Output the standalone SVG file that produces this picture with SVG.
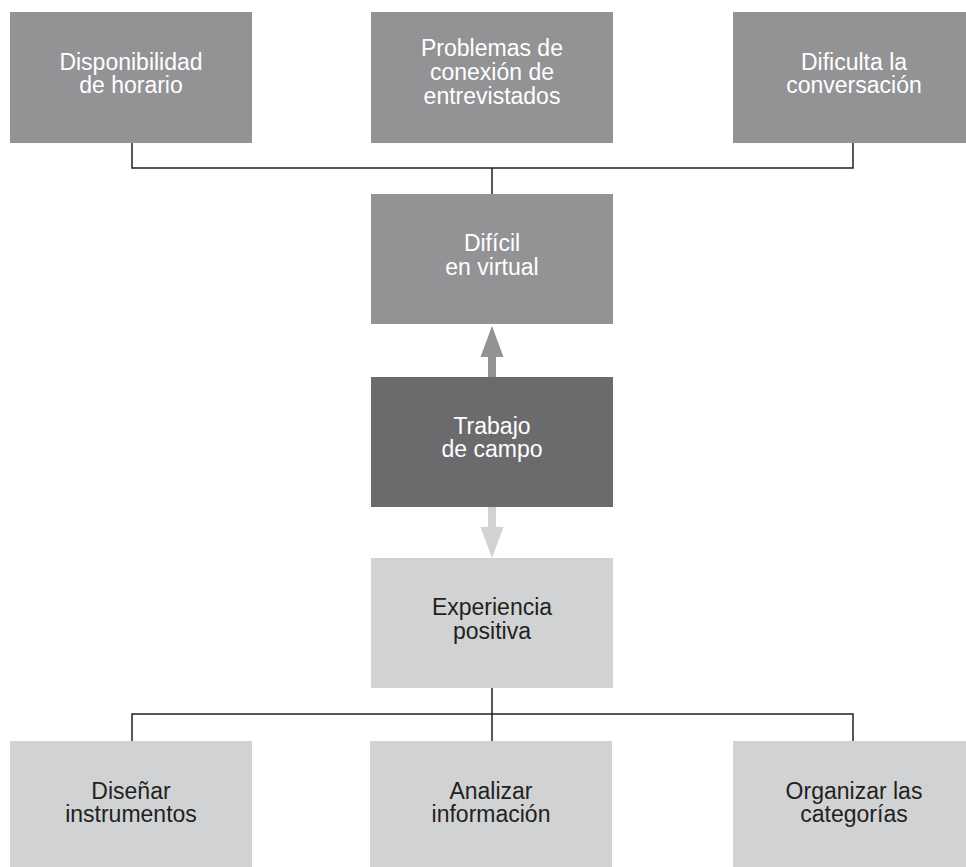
<svg xmlns="http://www.w3.org/2000/svg" width="966" height="867" viewBox="0 0 966 867">
<style>
.g{fill:#939396}
.d{fill:#6b6b6e}
.l{fill:#d1d2d4}
text{font-family:"Liberation Sans",Arial,sans-serif;font-size:23px;text-anchor:middle}
.w{fill:#ffffff}
.k{fill:#231f20}
.c{fill:none;stroke:#231f20;stroke-width:1.5}
</style>
<rect width="966" height="867" fill="#ffffff"/>
<g id="connectors">
<path class="c" d="M132 143V168H853V143M492 168V194"/>
<path class="c" d="M492 688V741M132 741V714H853V741"/>
<rect x="488" y="356" width="8" height="21" fill="#939396"/>
<polygon points="480.5,357 503.5,357 492,326" fill="#939396"/>
<rect x="488" y="506" width="8" height="22" fill="#d1d2d4"/>
<polygon points="480.5,527 503.5,527 492,558" fill="#d1d2d4"/>
</g>
<g id="n1"><rect class="g" x="10" y="12" width="242" height="131"/><text class="w" x="131" y="69.5">Disponibilidad</text><text class="w" x="131" y="93">de horario</text></g>
<g id="n2"><rect class="g" x="371" y="12" width="242" height="131"/><text class="w" x="492" y="56">Problemas de</text><text class="w" x="492" y="80">conexión de</text><text class="w" x="492" y="104">entrevistados</text></g>
<g id="n3"><rect class="g" x="733" y="12" width="242" height="131"/><text class="w" x="854" y="69.5">Dificulta la</text><text class="w" x="854" y="93">conversación</text></g>
<g id="n4"><rect class="g" x="371" y="194" width="242" height="130"/><text class="w" x="492" y="251">Difícil</text><text class="w" x="492" y="275">en virtual</text></g>
<g id="n5"><rect class="d" x="371" y="377" width="242" height="130"/><text class="w" x="492" y="434">Trabajo</text><text class="w" x="492" y="457">de campo</text></g>
<g id="n6"><rect class="l" x="371" y="558" width="242" height="130"/><text class="k" x="492" y="615">Experiencia</text><text class="k" x="492" y="638.5">positiva</text></g>
<g id="n7"><rect class="l" x="10" y="741" width="242" height="126"/><text class="k" x="131" y="798.5">Diseñar</text><text class="k" x="131" y="822">instrumentos</text></g>
<g id="n8"><rect class="l" x="370" y="741" width="242" height="126"/><text class="k" x="491" y="798.5">Analizar</text><text class="k" x="491" y="822">información</text></g>
<g id="n9"><rect class="l" x="733" y="741" width="242" height="126"/><text class="k" x="854" y="798.5">Organizar las</text><text class="k" x="854" y="822">categorías</text></g>
</svg>
